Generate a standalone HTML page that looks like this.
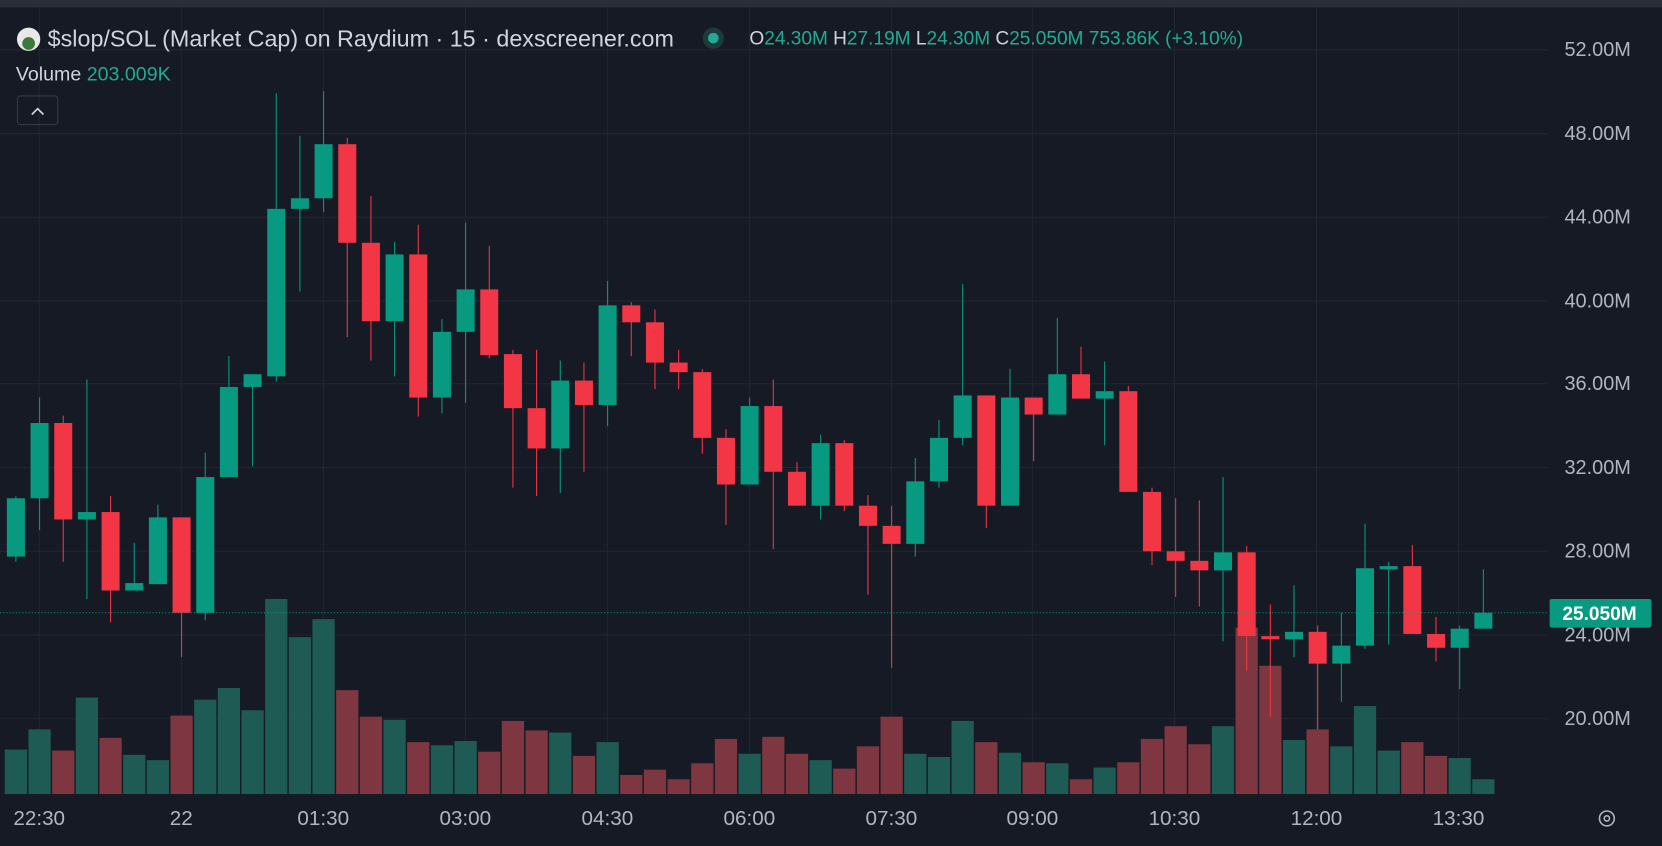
<!DOCTYPE html>
<html><head><meta charset="utf-8"><style>
html,body{margin:0;padding:0;background:#161a25;overflow:hidden}
svg{display:block}
text{font-family:"Liberation Sans",sans-serif}
</style></head><body>
<svg width="1662" height="846" viewBox="0 0 1568 798" preserveAspectRatio="none" xmlns="http://www.w3.org/2000/svg">
<rect width="1568" height="798" fill="#161a25"/>
<rect width="1568" height="7" fill="#2a2e39"/>
<g stroke="#222632" stroke-width="1">
<line x1="0" y1="47" x2="1460" y2="47"/><line x1="0" y1="126" x2="1460" y2="126"/><line x1="0" y1="205" x2="1460" y2="205"/><line x1="0" y1="284" x2="1460" y2="284"/><line x1="0" y1="362" x2="1460" y2="362"/><line x1="0" y1="441" x2="1460" y2="441"/><line x1="0" y1="520" x2="1460" y2="520"/><line x1="0" y1="599" x2="1460" y2="599"/><line x1="0" y1="678" x2="1460" y2="678"/>
<line x1="37" y1="7" x2="37" y2="750"/><line x1="171" y1="7" x2="171" y2="750"/><line x1="305" y1="7" x2="305" y2="750"/><line x1="439" y1="7" x2="439" y2="750"/><line x1="573" y1="7" x2="573" y2="750"/><line x1="707" y1="7" x2="707" y2="750"/><line x1="841" y1="7" x2="841" y2="750"/><line x1="974" y1="7" x2="974" y2="750"/><line x1="1108" y1="7" x2="1108" y2="750"/><line x1="1242" y1="7" x2="1242" y2="750"/><line x1="1376" y1="7" x2="1376" y2="750"/>
</g>
<g id="c"></g>
<line x1="0" y1="578" x2="1460" y2="578" stroke="#089981" stroke-width="1" stroke-dasharray="1,2"/>
<g fill="#b2b5be" font-size="18.8">
<text x="1476" y="53">52.00M</text><text x="1476" y="132">48.00M</text><text x="1476" y="211">44.00M</text><text x="1476" y="290">40.00M</text><text x="1476" y="368">36.00M</text><text x="1476" y="447">32.00M</text><text x="1476" y="526">28.00M</text><text x="1476" y="605">24.00M</text><text x="1476" y="684">20.00M</text>
</g>
<rect x="1462" y="565" width="96" height="27" rx="2" fill="#089981"/>
<text x="1474" y="585" fill="#fff" font-size="18" font-weight="bold">25.050M</text>
<g fill="#b2b5be" font-size="19.5" text-anchor="middle">
<text x="37" y="778">22:30</text><text x="171" y="778">22</text><text x="305" y="778">01:30</text><text x="439" y="778">03:00</text><text x="573" y="778">04:30</text><text x="707" y="778">06:00</text><text x="841" y="778">07:30</text><text x="974" y="778">09:00</text><text x="1108" y="778">10:30</text><text x="1242" y="778">12:00</text><text x="1376" y="778">13:30</text>
</g>
<circle cx="1516" cy="772" r="7" fill="none" stroke="#b2b5be" stroke-width="1.5"/><circle cx="1516" cy="772" r="2.5" fill="none" stroke="#b2b5be" stroke-width="1.5"/>
<circle cx="27" cy="37" r="11" fill="#e8e8e8"/><circle cx="27" cy="41" r="6" fill="#3a7a3a"/>
<text x="45" y="44" fill="#d1d4dc" font-size="22">$slop/SOL (Market Cap) on Raydium · 15 · dexscreener.com</text>
<circle cx="673" cy="36" r="10" fill="#1d3b39"/><circle cx="673" cy="36" r="5" fill="#22ab94"/>
<text x="707" y="42" font-size="18"><tspan fill="#d1d4dc">O</tspan><tspan fill="#22ab94">24.30M </tspan><tspan fill="#d1d4dc">H</tspan><tspan fill="#22ab94">27.19M </tspan><tspan fill="#d1d4dc">L</tspan><tspan fill="#22ab94">24.30M </tspan><tspan fill="#d1d4dc">C</tspan><tspan fill="#22ab94">25.050M 753.86K (+3.10%)</tspan></text>
<text x="15" y="76" font-size="18.5"><tspan fill="#d1d4dc">Volume </tspan><tspan fill="#22ab94">203.009K</tspan></text>
<rect x="16.5" y="90.5" width="38" height="27" rx="3" fill="none" stroke="#363a45"/>
<path d="M30 108 L35.5 102.5 L41 108" fill="none" stroke="#d1d4dc" stroke-width="1.6"/>
</svg>
<script>
var d=[
["g",470,525,468,530,707],["g",399,470,375,500,688],["r",399,490,392,530,708],["g",483,490,358,565,658],["r",483,557,468,587,696],["g",550,557,512,557,712],["g",488,551,476,551,717],["r",488,578,488,620,675],["g",450,578,427,585,660],["g",365,450,336,450,649],["g",353,365,353,440,670],["g",197,355,88,360,565],["g",187,197,128,275,601],["g",136,187,86,200,584],["r",136,229,130,318,651],["r",229,303,185,340,676],["g",240,303,228,355,679],["r",240,375,212,393,700],["g",313,375,301,390,703],["g",273,313,210,380,699],["r",273,335,232,338,709],["r",334,385,330,460,680],["r",385,423,330,468,689],["g",359,423,340,465,691],["r",359,382,342,445,713],["g",288,382,265,402,700],["r",288,304,285,336,731],["r",304,342,292,367,726],["r",342,351,330,367,735],["r",351,413,348,428,720],["r",413,457,405,495,697],["g",383,457,375,457,711],["r",383,445,358,518,695],["r",445,477,436,477,711],["g",418,477,410,490,717],["r",418,477,415,482,725],["r",477,496,467,561,704],["r",496,513,477,630,676],["g",454,513,432,525,711],["g",413,454,396,460,714],["g",373,413,268,420,680],["r",373,477,373,498,700],["g",375,477,348,477,710],["r",375,391,375,435,719],["g",353,391,300,391,720],["r",353,376,327,376,735],["g",369,376,341,420,724],["r",369,464,364,464,719],["r",464,520,460,533,697],["r",520,529,470,563,685],["r",529,538,472,572,702],["g",521,538,450,605,685],["r",521,600,515,633,592],["r",600,603,570,676,628],["g",596,603,552,620,698],["r",596,626,590,688,688],["g",609,626,578,662,704],["g",536,609,494,612,666],["g",534,537,530,608,708],["r",534,598,514,598,700],["r",598,611,582,624,713],["g",593,611,590,650,715],["g",578,593,537,593,735]];
var s="",v="";
d.forEach(function(c,i){var x=15+22.33*i,col=c[0]=="g"?"#089981":"#f23645",vc=c[0]=="g"?"#1e5b55":"#7e3640";
v+='<rect x="'+(x-10.5)+'" y="'+c[5]+'" width="21" height="'+(749-c[5])+'" fill="'+vc+'"/>';
s+='<line x1="'+x+'" y1="'+c[3]+'" x2="'+x+'" y2="'+c[4]+'" stroke="'+col+'" stroke-width="1"/>';
s+='<rect x="'+(x-8.5)+'" y="'+c[1]+'" width="17" height="'+Math.max(2,c[2]-c[1])+'" fill="'+col+'"/>';});
document.getElementById("c").innerHTML=v+s;
</script>
</body></html>
